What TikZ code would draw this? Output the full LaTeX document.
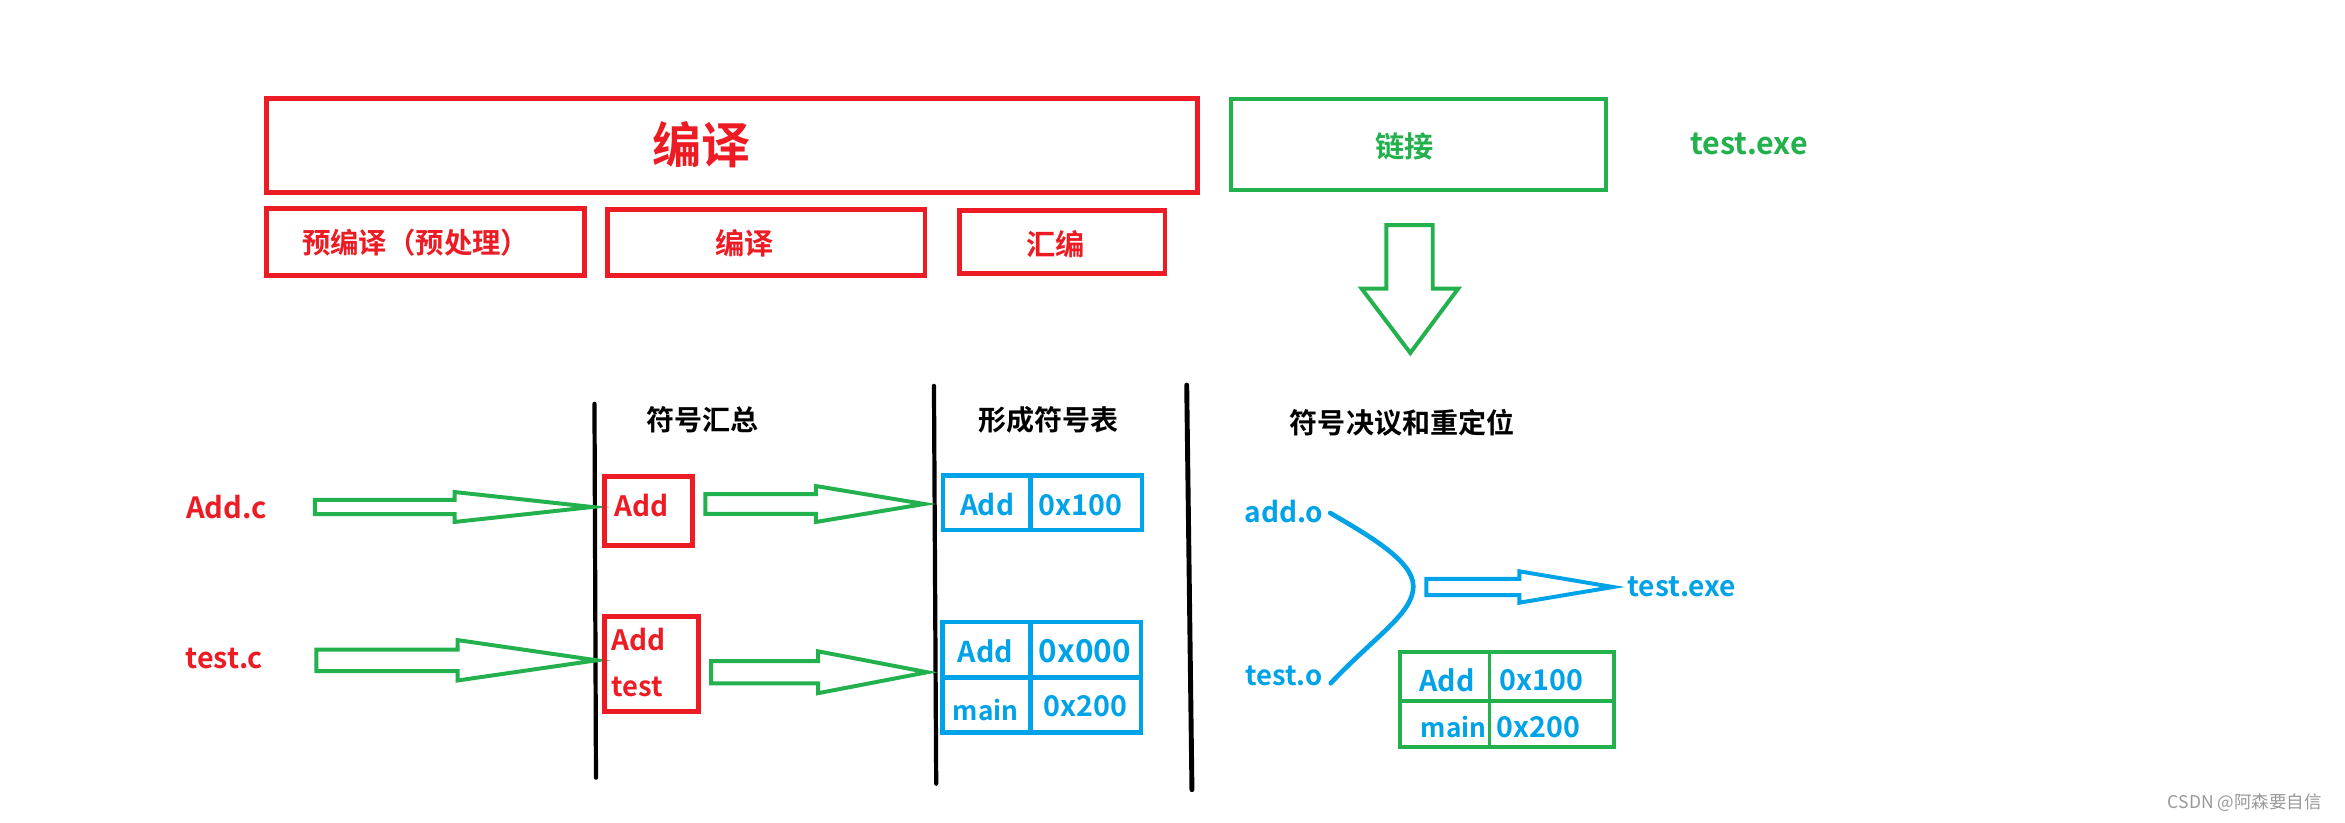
\documentclass[tikz,border=0pt]{standalone}
\usepackage{fontspec}
\setmainfont{Noto Sans CJK SC}[BoldFont=* Bold]
\definecolor{pred}{HTML}{ED1C24}
\definecolor{pgreen}{HTML}{22B14C}
\definecolor{pblue}{HTML}{00A2E8}
\definecolor{wmgray}{HTML}{999999}
\newcommand\bx[6]{\node[#6, minimum width={(#4-#2)*0.45mm}, minimum height={(#5-#3)*0.45mm}] (#1) at ({(#2+#4)/2},{(#3+#5)/2}) {};}
% style, x0, shoulder x, tip x, y, shaft half, head half
\newcommand\harrow[7]{\draw[#1] (#2,#5-#6) -- (#3,#5-#6) -- (#3,#5-#7) -- (#4,#5) -- (#3,#5+#7) -- (#3,#5+#6) -- (#2,#5+#6) -- cycle;}
\tikzset{
  lbl/.style={inner sep=0pt, font=\bfseries\fontsize{#1}{#1}\selectfont},
  rbox/.style={draw=pred, line width=4.2pt, inner sep=0pt},
  gbox/.style={draw=pgreen, line width=3.6pt, inner sep=0pt},
  bbox/.style={draw=pblue, line width=4pt, inner sep=0pt},
  gtab/.style={draw=pgreen, line width=3.2pt, inner sep=0pt},
  hollowg/.style={draw=pgreen, line width=3.4pt, line join=miter},
  hollowb/.style={draw=pblue, line width=3.4pt, line join=miter},
  sep/.style={draw=black, line width=3.6pt, line cap=round},
}
\begin{document}
\begin{tikzpicture}[x=0.45mm,y=-0.45mm]
\fill[white] (0,0) rectangle (1568,550);
\useasboundingbox (0,0) rectangle (1568,550);

% top row
\bx{compile}{178}{66}{800.5}{129}{rbox}
\node[lbl=42, text=pred] (compileT) at (469,97) {编译};
\bx{link}{823}{66}{1074}{127}{gbox}
\node[lbl=25, text=pgreen] (linkT) at (939,98) {链接};
\node[lbl=26, text=pgreen] (exeT) at (1169.5,96) {test.exe};

\bx{pre}{178}{139.5}{391}{184.5}{rbox}
\node[lbl=24.3, text=pred] (preT) at (278,162.5) {预编译（预处理）};
\bx{comp2}{406}{140}{618.5}{184}{rbox}
\node[lbl=25, text=pred] (comp2T) at (498,162.5) {编译};
\bx{asm}{641.5}{141}{779}{183}{rbox}
\node[lbl=25, text=pred] (asmT) at (706,163) {汇编};

% down arrow
\draw[hollowg] (927,150.5) -- (958,150.5) -- (958,193) -- (975,193) -- (943,236) -- (910.5,193) -- (927,193) -- cycle;

% separators
\draw[sep] (397.5,270) -- (398.5,520);
\draw[sep] (624.5,258) -- (626,524);
\draw[sep, line width=4.2pt] (793.5,257.5) -- (797,528);

% headers
\node[lbl=24] (h1) at (470,281) {符号汇总};
\node[lbl=24] (h2) at (701,280.5) {形成符号表};
\node[lbl=24] (h3) at (937.5,283) {符号决议和重定位};

% sources
\node[lbl=25, text=pred] (addc) at (151.5,339) {Add.c};
\node[lbl=24.5, text=pred] (testc) at (150,440.5) {test.c};

% arrows stage 1
\harrow{hollowg}{210.6}{304}{396}{339}{4.7}{10}
\harrow{hollowg}{211.6}{306}{399}{441.5}{7.2}{13.5}

% symbol boxes
\bx{symA}{404}{318.5}{463}{365}{rbox}
\node[lbl=24, text=pred, anchor=west] (symAt) at (410.5,338) {Add};
\bx{symB}{404}{412}{467}{476}{rbox}
\node[lbl=24, text=pred, anchor=west] (symBa) at (409,427.5) {Add};
\node[lbl=23.5, text=pred, anchor=west] (symBt) at (409,459.5) {test};

% arrows stage 2
\harrow{hollowg}{471.6}{545.6}{618}{337}{6.6}{12}
\harrow{hollowg}{475.5}{547}{620}{449.5}{7.5}{14}

% symbol tables
\bx{tabA}{630.6}{318}{763.6}{354.4}{bbox}
\draw[pblue, line width=4pt] (689,318) -- (689,354.4);
\node[lbl=24, text=pblue] (tA1) at (660,337.5) {Add};
\node[lbl=24.5, text=pblue] (tA2) at (722.5,337.5) {0x100};

\bx{tabB}{630}{416}{763}{490}{bbox}
\draw[pblue, line width=4pt] (630,453) -- (763,453);
\draw[pblue, line width=4pt] (689,416) -- (689,490);
\node[lbl=24.5, text=pblue] (tB1) at (659,435.5) {Add};
\node[lbl=27, text=pblue] (tB2) at (725.5,435.5) {0x000};
\node[lbl=22.5, text=pblue] (tB3) at (659,475) {main};
\node[lbl=24.5, text=pblue] (tB4) at (726,472.5) {0x200};

% linking stage
\node[lbl=24, text=pblue] (addo) at (858.5,342) {add.o};
\node[lbl=23.5, text=pblue] (testo) at (858.5,452) {test.o};
\draw[pblue, line width=4pt, line cap=round]
  (889.4,343) .. controls (915,358) and (945,375) .. (945,392)
  .. controls (945,410) and (920,425) .. (889.8,456.8);
\harrow{hollowb}{953.8}{1015.9}{1078.5}{392.5}{5.4}{10.5}
\node[lbl=24, text=pblue] (exeB) at (1124.5,392.5) {test.exe};

\bx{tabC}{936}{436}{1079}{499.5}{gtab}
\draw[pgreen, line width=3.2pt] (936,468.5) -- (1079,468.5);
\draw[pgreen, line width=3.2pt] (996,436) -- (996,499.5);
\node[lbl=24.5, text=pblue] (tC1) at (967.5,455) {Add};
\node[lbl=24.5, text=pblue] (tC2) at (1030.5,455) {0x100};
\node[lbl=22.5, text=pblue] (tC3) at (972,486) {main};
\node[lbl=24.5, text=pblue] (tC4) at (1028.5,486) {0x200};

% watermark
\node[inner sep=0pt, font=\fontsize{15}{15}\selectfont, text=wmgray] (wm) at (1501,537) {CSDN @阿森要自信};
\end{tikzpicture}
\end{document}
